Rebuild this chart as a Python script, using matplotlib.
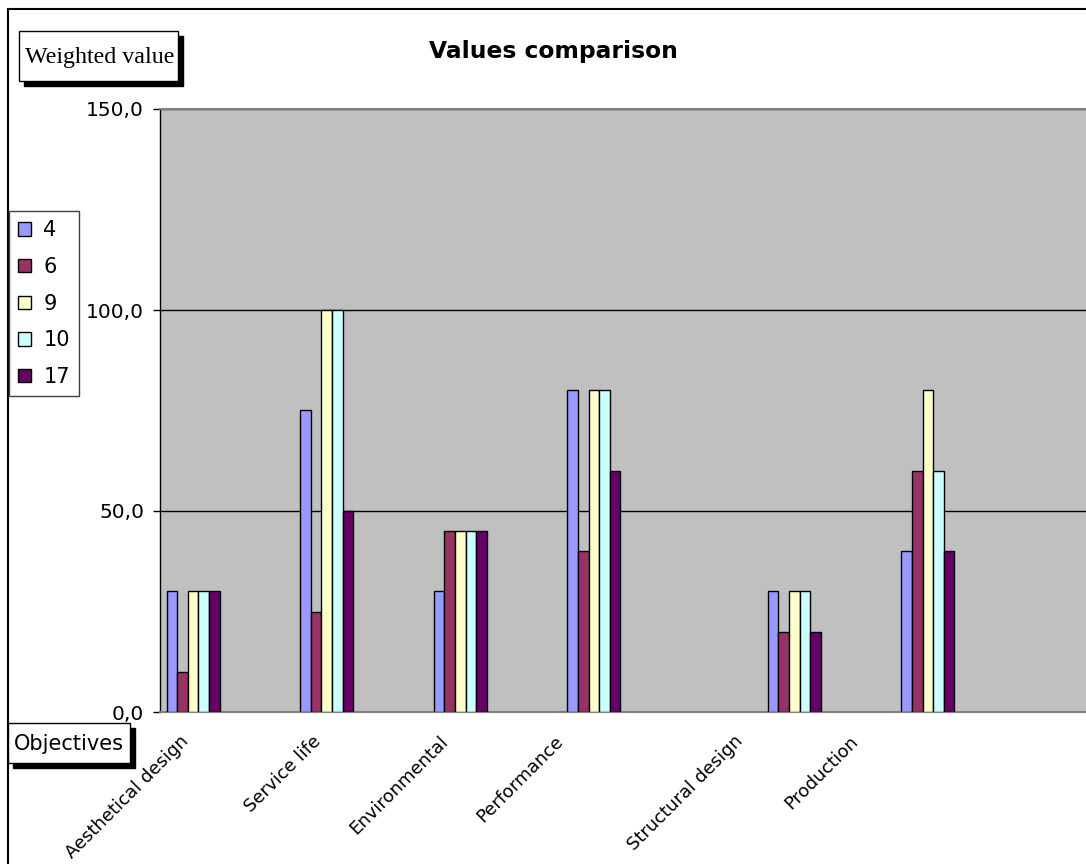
import matplotlib
matplotlib.use("Agg")
from matplotlib import pyplot as plt
from matplotlib.patches import Rectangle

# data
categories = ["Aesthetical design", "Service life", "Environmental",
              "Performance", "Structural design", "Production"]
series_names = ["4", "6", "9", "10", "17"]
s4 = [30, 75, 30, 80, 30, 40]
s6 = [10, 25, 45, 40, 20, 60]
s9 = [30, 100, 45, 80, 30, 80]
s10 = [30, 100, 45, 80, 30, 60]
s17 = [30, 50, 45, 60, 20, 40]
y_ticks = [0, 50, 100, 150]

# layout (category slot units)
colors = ["#9999FF", "#993366", "#FFFFCC", "#CCFFFF", "#660066"]
group_slot = [0, 1, 2, 3, 4.5, 5.5]
group_start = 0.05
bar_w = 0.0793
label_pos = [0.195, 1.183, 2.14, 3.0, 4.34, 5.21]

W, H = 1086, 864
fig = plt.figure(figsize=(W / 100, H / 100), dpi=100)
fig.patch.set_facecolor("white")

# plot area: left edge 160px, bottom 712px, top 109px, runs past the right edge
ax = fig.add_axes([160 / W, 1 - 712 / H, 935 / W, (712 - 109) / H])
ax.set_facecolor("#C0C0C0")

all_series = [s4, s6, s9, s10, s17]
handles = []
for i, (name, vals) in enumerate(zip(series_names, all_series)):
    xs = [g + group_start + i * bar_w for g in group_slot]
    b = ax.bar(xs, vals, width=bar_w, align="edge", color=colors[i],
               edgecolor="black", linewidth=1.0, label=name, zorder=3)
    handles.append(b)

ax.set_xlim(0, 7)
ax.set_ylim(0, 150)
ax.set_yticks(y_ticks)
ax.set_yticklabels([f"{v:.1f}".replace(".", ",") for v in y_ticks],
                   fontsize=14.5, family="DejaVu Sans")
ax.tick_params(axis="y", direction="out", length=5, width=1, pad=6.5)
ax.yaxis.grid(True, color="black", linewidth=1.0)
ax.set_axisbelow(True)

ax.set_xticks(label_pos)
ax.set_xticklabels(categories, rotation=45, ha="right", va="center",
                   rotation_mode="anchor", fontsize=13, family="DejaVu Sans")
ax.tick_params(axis="x", length=0, pad=19)

ax.spines["left"].set_color("black")
ax.spines["left"].set_linewidth(1.0)
ax.spines["top"].set_color("#808080")
ax.spines["top"].set_linewidth(1.5)
ax.spines["bottom"].set_color("#808080")
ax.spines["bottom"].set_linewidth(1.5)
ax.spines["right"].set_visible(False)

# title
fig.text(553 / W, 1 - 58 / H, "Values comparison", ha="center",
         va="baseline", fontsize=16.8, fontweight="bold", family="DejaVu Sans")


def shadow_box(x0, y0, x1, y1, off=5):
    # box given in pixels from top-left, with a black drop shadow
    fig.add_artist(Rectangle(((x0 + off) / W, 1 - (y1 + off) / H), (x1 - x0) / W,
                             (y1 - y0) / H, transform=fig.transFigure,
                             facecolor="black", edgecolor="black", zorder=5))
    fig.add_artist(Rectangle((x0 / W, 1 - y1 / H), (x1 - x0) / W, (y1 - y0) / H,
                             transform=fig.transFigure, facecolor="white",
                             edgecolor="black", linewidth=1.0, zorder=6))


shadow_box(19, 31, 178, 81)
fig.text(99.5 / W, 1 - 63.5 / H, "Weighted value", ha="center", va="baseline",
         fontsize=17.3, family="Liberation Serif", zorder=7)

shadow_box(8, 723, 130, 763)
fig.text(69 / W, 1 - 750 / H, "Objectives", ha="center", va="baseline",
         fontsize=15, family="DejaVu Sans", zorder=7)

# legend
leg = fig.legend(handles=handles, labels=series_names, loc="upper left",
                 bbox_to_anchor=(9 / W, 1 - 211 / H), borderaxespad=0,
                 fontsize=15, handlelength=0.6, handleheight=0.6,
                 handletextpad=0.6, labelspacing=0.8, borderpad=0.45,
                 fancybox=False, framealpha=1, edgecolor="#404040")
leg.get_frame().set_linewidth(1.0)

# outer chart border (cut off at right and bottom)
fig.add_artist(Rectangle((7.5 / W, -0.1), 1.2, 1 - 9 / H + 0.1,
                         transform=fig.transFigure, fill=False,
                         edgecolor="black", linewidth=1.5))

fig.savefig("out.png", dpi=100)
